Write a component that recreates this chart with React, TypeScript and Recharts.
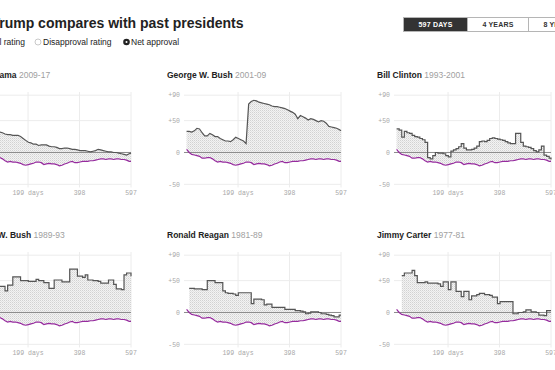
import {
  Area,
  CartesianGrid,
  ComposedChart,
  Line,
  ReferenceLine,
  XAxis,
  YAxis,
} from "recharts";

// days since inauguration
const days = [
  0, 10, 20, 30, 40, 50, 60, 70, 80, 90,
  100, 110, 120, 130, 140, 150, 160, 170, 180, 190,
  200, 210, 220, 230, 240, 250, 260, 270, 280, 290,
  300, 310, 320, 330, 340, 350, 360, 370, 380, 390,
  400, 410, 420, 430, 440, 450, 460, 470, 480, 490,
  500, 510, 520, 530, 540, 550, 560, 570, 580, 590,
  597,
];

const trumpNet = [
  5, 0, -3, -4, -5, -6, -9, -9, -8, -8,
  -10, -13, -15, -14, -15, -15, -16, -17, -19, -20,
  -19, -18, -17, -15, -15, -16, -19, -18, -17, -18,
  -18, -19, -21, -20, -18, -17, -15, -14, -16, -16,
  -15, -14, -14, -14, -13, -13, -12, -11, -10, -10,
  -11, -10, -10, -11, -10, -10, -11, -11, -12, -14,
  -14,
];

const obamaNet = [
  45, 46, 44, 40, 38, 37, 36, 34, 33, 32,
  31, 29, 28, 28, 27, 27, 27, 25, 22, 19,
  16, 15, 13, 13, 11, 12, 12, 12, 10, 9,
  9, 8, 6, 6, 7, 7, 6, 5, 5, 4,
  3, 3, 3, 2, 1, 2, 3, 5, 4, 3,
  2, 1, 1, 0, 0, -1, -2, -3, -4, -2,
  -1,
];

const bush43Net = [
  33, 33, 32, 34, 38, 37, 31, 26, 26, 30,
  28, 25, 25, 22, 20, 18, 18, 17, 20, 24,
  22, 20, 18, 14, 76, 80, 82, 81, 79, 78,
  77, 76, 75, 73, 72, 72, 71, 70, 69, 67,
  65, 63, 60, 53, 58, 56, 54, 51, 53, 52,
  50, 48, 50, 49, 46, 41, 40, 39, 38, 36,
  34,
];

const clintonNet = [
  37, 35, 24, 33, 31, 30, 27, 25, 24, 22,
  20, 16, -8, -10, -5, 0, -1, -1, -2, -5,
  -7, 2, 4, 6, 9, 14, 7, 4, 4, 5,
  7, 10, 17, 18, 17, 19, 22, 23, 22, 21,
  20, 19, 17, 15, 14, 14, 30, 30, 16, 10,
  9, 8, 6, 3, 1, 4, 10, -4, -6, -9,
  -11,
];

const bush41Net = [
  45, 45, 42, 42, 45, 45, 40, 40, 41, 41,
  41, 34, 43, 43, 56, 56, 56, 50, 50, 50,
  49, 49, 49, 52, 50, 50, 47, 47, 38, 38,
  51, 51, 51, 48, 48, 48, 68, 68, 68, 57,
  57, 55, 59, 51, 51, 50, 50, 49, 46, 46,
  46, 51, 51, 44, 37, 37, 36, 59, 62, 62,
  57,
];

const reaganNet = [
  null, 38, 38, 37, 37, 37, 36, 36, 50, 50,
  50, 47, 47, 47, 34, 31, 30, 30, 29, 27,
  31, 31, 31, 31, 31, 14, 21, 21, 21, 20,
  12, 13, 13, 8, 8, 8, 8, 8, 5, 5,
  5, 5, 3, 3, 2, 1, -2, -1, 1, 1,
  1, 0, -2, -2, -3, -4, -5, -7, -7, -4,
  -4,
];

const carterNet = [
  null, null, 58, 62, 62, 62, 66, 58, 47, 47,
  47, 48, 46, 46, 46, 46, 45, 41, 48, 48,
  36, 48, 48, 33, 33, 25, 33, 33, 20, 26,
  26, 28, 30, 30, 28, 28, 27, 24, 24, 14,
  17, 17, 17, 17, 17, -2, -2, 0, 0, 1,
  4, 4, 1, 1, 0, -4, -4, -5, 3, 3,
  3,
];

const xTicks = [199, 398, 597];
const yTicks = [-50, 0, 50, 90];

const presidents = [
  { id: "obama", name: "Barack Obama", years: "2009-17", values: obamaNet, curve: "linear" },
  { id: "bush43", name: "George W. Bush", years: "2001-09", values: bush43Net, curve: "linear" },
  { id: "clinton", name: "Bill Clinton", years: "1993-2001", values: clintonNet, curve: "stepAfter" },
  { id: "bush41", name: "George H.W. Bush", years: "1989-93", values: bush41Net, curve: "stepAfter" },
  { id: "reagan", name: "Ronald Reagan", years: "1981-89", values: reaganNet, curve: "stepAfter" },
  { id: "carter", name: "Jimmy Carter", years: "1977-81", values: carterNet, curve: "stepAfter" },
];

const tickStyle = { fontSize: 6.5, fill: "#a8a8a8", fontFamily: '"Liberation Mono", monospace' };
const sans = '"Liberation Sans", Arial, sans-serif';

const Panel = ({ p, index }: { p: (typeof presidents)[number]; index: number }) => {
  const col = index % 3;
  const row = Math.floor(index / 3);
  const rows = days.map((day, i) => {
    const other = p.values[i];
    return {
      day,
      trump: trumpNet[i],
      other,
      range: other == null ? null : [trumpNet[i], other],
    };
  });
  return (
    <>
      <div
        style={{
          position: "absolute",
          left: -43 + col * 210,
          top: 69 + row * 160,
          fontSize: 8.5,
          lineHeight: "12px",
          whiteSpace: "nowrap",
          fontFamily: sans,
        }}
      >
        <span style={{ fontWeight: 700, color: "#222" }}>{p.name}</span>{" "}
        <span style={{ color: "#a0a0a0" }}>{p.years}</span>
      </div>
      <div style={{ position: "absolute", left: -54.1 + col * 210, top: 89.8 + row * 160 }}>
        <ComposedChart
          width={195}
          height={112.5}
          data={rows}
          margin={{ top: 2, right: 10, bottom: 0, left: 0 }}
        >
          <defs>
            <pattern id={`hatch-${p.id}`} width="2" height="2" patternUnits="userSpaceOnUse">
              <rect width="2" height="2" fill="#f3f3f3" />
              <rect x="0" y="0" width="1" height="1" fill="#d2d2d2" />
              <rect x="1" y="1" width="1" height="1" fill="#e2e2e2" />
            </pattern>
          </defs>
          <CartesianGrid stroke="#ececec" verticalValues={xTicks} horizontalValues={yTicks} />
          <XAxis
            dataKey="day"
            type="number"
            domain={[-10, 597]}
            ticks={xTicks}
            interval={0}
            tickFormatter={(v) => (v === 199 ? "199 days" : String(v))}
            tick={tickStyle}
            tickLine={false}
            axisLine={false}
            tickSize={0}
            tickMargin={3}
            height={15}
          />
          <YAxis
            type="number"
            domain={[-55, 95]}
            ticks={yTicks}
            interval={0}
            tickFormatter={(v) => (v > 0 ? `+${v}` : String(v))}
            tick={tickStyle}
            tickLine={false}
            axisLine={false}
            tickSize={0}
            tickMargin={4}
            width={28}
          />
          <Area
            dataKey="range"
            type={p.curve as any}
            stroke="none"
            fill={`url(#hatch-${p.id})`}
            fillOpacity={1}
            isAnimationActive={false}
          />
          <ReferenceLine y={0} stroke="#8a8a8a" strokeWidth={1} />
          <Line
            dataKey="trump"
            type="linear"
            stroke="#962b9e"
            strokeWidth={1.2}
            dot={false}
            isAnimationActive={false}
          />
          <Line
            dataKey="other"
            type={p.curve as any}
            stroke="#555"
            strokeWidth={1.2}
            dot={false}
            isAnimationActive={false}
          />
        </ComposedChart>
      </div>
    </>
  );
};

const buttons = [
  { label: "597 DAYS", active: true, width: 63 },
  { label: "4 YEARS", active: false, width: 61 },
  { label: "8 YEARS", active: false, width: 61 },
];

export default function App() {
  return (
    <div
      style={{
        position: "absolute",
        left: 0,
        top: 0,
        width: 555,
        height: 370,
        overflow: "hidden",
        background: "#fff",
        fontFamily: sans,
        color: "#222",
      }}
    >
      <div
        style={{
          position: "absolute",
          left: -42,
          top: 15.1,
          fontSize: 14,
          lineHeight: "16px",
          fontWeight: 700,
          whiteSpace: "nowrap",
        }}
      >
        How Trump compares with past presidents
      </div>

      {/* legend */}
      <div style={{ position: "absolute", right: 530, top: 37, fontSize: 8.5, lineHeight: "10px", whiteSpace: "nowrap" }}>
        Approval rating
      </div>
      <svg style={{ position: "absolute", left: 0, top: 0 }} width={140} height={50}>
        <circle cx={38} cy={42} r={3} fill="#fff" stroke="#bbb" strokeWidth={0.8} />
        <circle cx={126.5} cy={42} r={3.3} fill="#222" />
        <circle cx={126.5} cy={42} r={1} fill="#fff" />
      </svg>
      <div style={{ position: "absolute", left: 43, top: 37, fontSize: 8.5, lineHeight: "10px", whiteSpace: "nowrap" }}>
        Disapproval rating
      </div>
      <div style={{ position: "absolute", left: 131, top: 37, fontSize: 8.5, lineHeight: "10px", whiteSpace: "nowrap" }}>
        Net approval
      </div>

      {/* range buttons */}
      <div style={{ position: "absolute", left: 403, top: 17, display: "flex", border: "1px solid #b5b5b5", height: 13 }}>
        {buttons.map((b, i) => (
          <div
            key={b.label}
            style={{
              width: b.width,
              height: 13,
              lineHeight: "13px",
              textAlign: "center",
              fontSize: 7,
              fontWeight: 700,
              letterSpacing: 0.2,
              background: b.active ? "#333" : "#fff",
              color: b.active ? "#fff" : "#333",
              borderLeft: i > 0 ? "1px solid #b5b5b5" : "none",
              boxSizing: "border-box",
            }}
          >
            {b.label}
          </div>
        ))}
      </div>

      {presidents.map((p, i) => (
        <Panel key={p.id} p={p} index={i} />
      ))}
    </div>
  );
}
